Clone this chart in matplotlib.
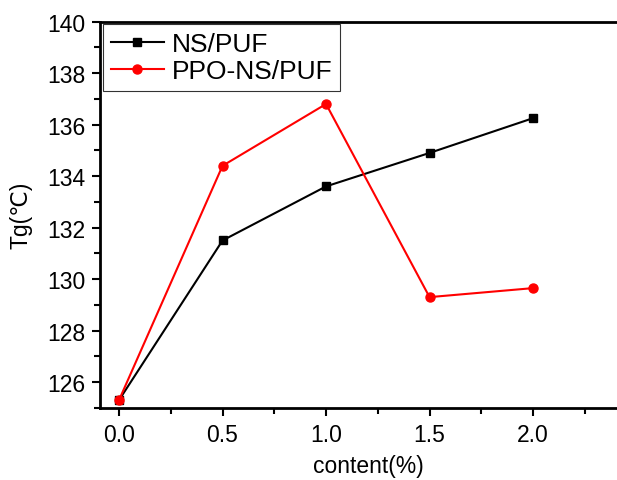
import numpy as np
import matplotlib.pyplot as plt
from matplotlib.ticker import MultipleLocator

plt.rcParams['font.family'] = ['Liberation Sans', 'DejaVu Sans']

content = [0.0, 0.5, 1.0, 1.5, 2.0]
ns_puf = [125.3, 131.5, 133.6, 134.9, 136.25]
ppo_ns_puf = [125.3, 134.4, 136.8, 129.3, 129.65]

fig = plt.figure(figsize=(6.17, 4.81), dpi=100)
ax = fig.add_axes([0.1627, 0.150, 0.869, 0.803])

ax.plot(content, ns_puf, color='black', marker='s', markersize=6, lw=1.5, label='NS/PUF')
ax.plot(content, ppo_ns_puf, color='red', marker='o', markersize=6.5, lw=1.5, label='PPO-NS/PUF')

ax.set_xlim(-0.09, 2.5)
ax.set_ylim(125, 140)
ax.set_xticks([0.0, 0.5, 1.0, 1.5, 2.0])
ax.set_xticklabels(['0.0', '0.5', '1.0', '1.5', '2.0'])
ax.xaxis.set_minor_locator(MultipleLocator(0.25))
ax.yaxis.set_major_locator(MultipleLocator(2))
ax.yaxis.set_minor_locator(MultipleLocator(1))
ax.tick_params(which='major', direction='out', length=6, width=1.5, labelsize=16.5, pad=5)
ax.tick_params(which='minor', direction='out', length=4, width=1.5)
ax.tick_params(top=False, right=False)
for s in ax.spines.values():
    s.set_linewidth(2)
ax.spines['right'].set_visible(False)

ax.set_xlabel('content(%)', fontsize=16.5, labelpad=6)
ax.set_ylabel('Tg(℃)', fontsize=16.5, labelpad=10)

leg = ax.legend(loc='upper left', fontsize=19, frameon=True, fancybox=False,
                borderaxespad=0.1, handlelength=2.0, borderpad=0.3, labelspacing=0.1,
                handletextpad=0.3)
leg.get_frame().set_edgecolor('black')
leg.get_frame().set_linewidth(0.8)

fig.savefig('out.png', dpi=100)
